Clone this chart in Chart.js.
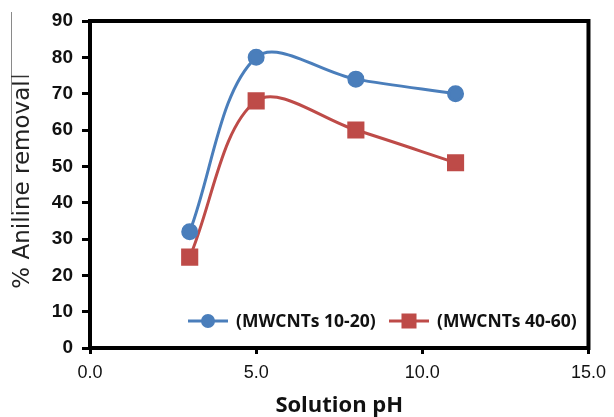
<!DOCTYPE html>
<html>
<head>
<meta charset="utf-8">
<script src="https://cdn.jsdelivr.net/npm/chart.js@4.4.1/dist/chart.umd.min.js"></script>
<style>
  html, body { margin: 0; padding: 0; background: #fff; }
  #wrap { width: 614px; height: 417px; position: relative; }
</style>
</head>
<body>
<div id="wrap"><canvas id="c" width="614" height="417"></canvas></div>
<script>
// ---- data ----
const phValues = [3, 5, 8, 11];
const removal1020 = [32, 80, 74, 70];
const removal4060 = [25, 68, 60, 51];
const seriesNames = ['(MWCNTs 10-20)', '(MWCNTs 40-60)'];
const xTickValues = [0, 5, 10, 15];
const xTitle = 'Solution pH';
const yTitle = '% Aniline removal';

const BLUE = '#4A7EBB';
const RED = '#BE4B48';

function pts(xs, ys) { return xs.map((x, i) => ({ x: x, y: ys[i] })); }

const framePlugin = {
  id: 'frame',
  afterDraw(chart) {
    const { ctx, chartArea: a } = chart;
    ctx.save();
    ctx.strokeStyle = '#000';
    ctx.lineWidth = 4;
    ctx.beginPath();
    ctx.moveTo(a.left - 2, a.top);
    ctx.lineTo(a.right, a.top);
    ctx.lineTo(a.right, a.bottom + 2);
    ctx.stroke();
    // stray gray guide lines present in the reference
    ctx.strokeStyle = '#8a8a8a';
    ctx.lineWidth = 1;
    ctx.beginPath();
    ctx.moveTo(11.5, 12);
    ctx.lineTo(11.5, 213);
    ctx.stroke();
    ctx.strokeStyle = '#333';
    ctx.lineWidth = 1.5;
    ctx.beginPath();
    ctx.moveTo(11, 76.5);
    ctx.lineTo(29, 76.5);
    ctx.stroke();
    ctx.restore();
  }
};

const legendPlugin = {
  id: 'innerLegend',
  afterDatasetsDraw(chart) {
    const { ctx } = chart;
    const y = 321;
    const items = [
      { x0: 188, r: 5.5, ds: chart.data.datasets[0] },
      { x0: 389, r: 8.5, ds: chart.data.datasets[1] }
    ];
    ctx.save();
    ctx.font = 'bold 17.5px "Open Sans", Lato, sans-serif';
    ctx.textBaseline = 'middle';
    ctx.textAlign = 'left';
    items.forEach(it => {
      ctx.strokeStyle = it.ds.borderColor;
      ctx.lineWidth = 3;
      ctx.beginPath();
      ctx.moveTo(it.x0, y);
      ctx.lineTo(it.x0 + 40, y);
      ctx.stroke();
      ctx.fillStyle = it.ds.pointBackgroundColor;
      ctx.strokeStyle = it.ds.pointBackgroundColor;
      Chart.helpers.drawPoint(ctx, { pointStyle: it.ds.pointStyle, radius: it.r, borderWidth: 1, rotation: 0 }, it.x0 + 20, y);
      ctx.fillStyle = '#111';
      ctx.fillText(it.ds.label, it.x0 + 48, y + 1);
    });
    ctx.restore();
  }
};

new Chart(document.getElementById('c'), {
  type: 'line',
  data: {
    datasets: [
      {
        label: seriesNames[0],
        data: pts(phValues, removal1020),
        borderColor: BLUE,
        backgroundColor: BLUE,
        pointBackgroundColor: BLUE,
        pointBorderColor: BLUE,
        pointStyle: 'circle',
        pointRadius: 7,
        borderWidth: 3,
        tension: 0.34
      },
      {
        label: seriesNames[1],
        data: pts(phValues, removal4060),
        borderColor: RED,
        backgroundColor: RED,
        pointBackgroundColor: RED,
        pointBorderColor: RED,
        pointStyle: 'rect',
        pointRadius: 10,
        borderWidth: 3,
        tension: 0.34
      }
    ]
  },
  options: {
    responsive: false,
    animation: false,
    layout: { padding: { top: 21, right: 20, left: 0, bottom: 0 } },
    plugins: { legend: { display: false }, tooltip: { enabled: false } },
    scales: {
      x: {
        type: 'linear',
        min: 0, max: 15,
        afterBuildTicks: s => { s.ticks = xTickValues.map(v => ({ value: v })); },
        afterFit: s => { s.height = 69; },
        ticks: {
          color: '#111',
          padding: 8,
          maxRotation: 0,
          font: { family: '"Liberation Sans", Arial, sans-serif', size: 18 },
          callback: v => Number(v).toFixed(1)
        },
        grid: { display: true, drawOnChartArea: false, drawTicks: true, tickLength: 6, tickWidth: 3, color: '#000' },
        border: { display: true, width: 4, color: '#000' },
        title: {
          display: true, text: xTitle, color: '#111',
          font: { family: '"Open Sans", Lato, sans-serif', size: 22, weight: 'bold' },
          padding: { top: 0, bottom: -2 }
        }
      },
      y: {
        min: 0, max: 90,
        afterFit: s => { s.width = 90; },
        ticks: {
          stepSize: 10, color: '#111', padding: 9,
          font: { family: '"Liberation Sans", Arial, sans-serif', size: 19, weight: 'bold' }
        },
        grid: { display: true, drawOnChartArea: false, drawTicks: true, tickLength: 8, tickWidth: 3, color: '#000' },
        border: { display: true, width: 4, color: '#000' },
        title: {
          display: true, text: yTitle, color: '#222',
          font: { family: '"DejaVu Sans", sans-serif', size: 23 },
          padding: { top: 9, bottom: 0 }
        }
      }
    }
  },
  plugins: [framePlugin, legendPlugin]
});
</script>
</body>
</html>
